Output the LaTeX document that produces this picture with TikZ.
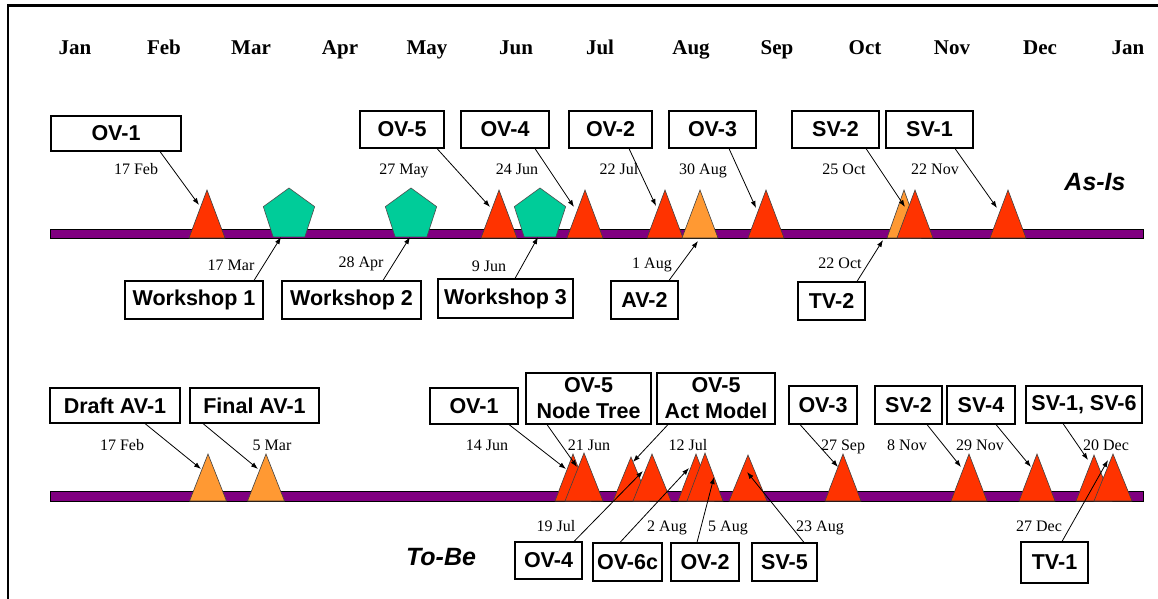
\documentclass[tikz,border=0pt]{standalone}
\usepackage{fontspec}
\setmainfont{Liberation Serif}
\setsansfont{Liberation Sans}
\usetikzlibrary{shapes.geometric,arrows.meta}
\definecolor{tred}{HTML}{FF3300}
\definecolor{torange}{HTML}{FF9933}
\definecolor{pgreen}{HTML}{00CC99}
\definecolor{barpurple}{HTML}{800080}
\newcommand\vbx[6]{\node[vbox, minimum width={#4-#2}, minimum height={#5-#3}] (#1) at ({(#2+#4)/2},{(#3+#5)/2}) {#6};}
\newcommand\trg[5]{\path[tri, fill=#1] ({#2-#4},#5) -- (#2,#3) -- ({#2+#4},#5) -- cycle;}
\newcommand\dlb[4]{\node[datelbl] (#1) at (#2,#3) {#4};}
\newcommand\mlb[3]{\node[monthlbl] (#1) at (#2,55) {#3};}
\begin{document}
\begin{tikzpicture}[x=1pt,y=-1pt,
 vbox/.style={draw=black, line width=1.1pt, fill=white, inner sep=0pt, align=center, font=\sffamily\bfseries\fontsize{21.5}{26}\selectfont},
 datelbl/.style={font=\rmfamily\fontsize{16}{18}\selectfont, anchor=base, inner sep=0pt},
 monthlbl/.style={font=\rmfamily\bfseries\fontsize{21}{24}\selectfont, anchor=base, inner sep=0pt},
 phase/.style={font=\sffamily\bfseries\itshape\fontsize{25}{28}\selectfont, inner sep=0pt},
 arr/.style={draw=black, line width=0.8pt, -{Latex[length=7pt,width=5pt]}},
 tl/.style={fill=barpurple, draw=black, line width=0.6pt},
 pent/.style={regular polygon, regular polygon sides=5, minimum size=54pt, inner sep=0pt, fill=pgreen, draw=black!70, line width=0.6pt},
 tri/.style={draw=black!75, line width=0.6pt}
]
\useasboundingbox (0,0) rectangle (1158,599);
\draw[line width=2.5pt] (8,599) -- (8,5.5) -- (1158,5.5);

% months
\mlb{m1}{75}{Jan}\mlb{m2}{164}{Feb}\mlb{m3}{251}{Mar}\mlb{m4}{340}{Apr}
\mlb{m5}{427}{May}\mlb{m6}{516}{Jun}\mlb{m7}{600}{Jul}\mlb{m8}{691}{Aug}
\mlb{m9}{777}{Sep}\mlb{m10}{865}{Oct}\mlb{m11}{952}{Nov}\mlb{m12}{1040}{Dec}
\mlb{m13}{1128}{Jan}

% ---------------- As-Is ----------------
\path[tl] (50,229) rectangle (1143,238);
\trg{tred}{207}{190}{18}{238}
\node[pent] (p1) at (289,215) {};
\node[pent] (p2) at (411,215) {};
\trg{tred}{499}{190}{18}{238}
\node[pent] (p3) at (540,215) {};
\trg{tred}{585}{190}{18}{238}
\trg{tred}{665}{190}{18}{238}
\trg{torange}{700}{190}{18}{238}
\trg{tred}{766}{190}{18}{238}
\trg{torange}{904}{190}{17}{238}
\trg{tred}{915}{190}{18}{238}
\trg{tred}{1008}{190}{18}{238}

\vbx{aov1}{51}{116}{181}{151}{OV-1}
\vbx{aov5}{360}{111}{444}{148}{OV-5}
\vbx{aov4}{461}{111}{549}{148}{OV-4}
\vbx{aov2}{569}{111}{652}{148}{OV-2}
\vbx{aov3}{669}{111}{756}{148}{OV-3}
\vbx{asv2}{792}{111}{879}{148}{SV-2}
\vbx{asv1}{886}{111}{973}{148}{SV-1}
\vbx{aw1}{125}{281}{263}{319}{Workshop 1}
\vbx{aw2}{282}{281}{421}{319}{Workshop 2}
\vbx{aw3}{438}{279}{573}{318}{Workshop 3}
\vbx{aav2}{611}{281}{678}{319}{AV-2}
\vbx{atv2}{798}{282}{865}{320}{TV-2}

\dlb{a1}{136}{174}{17 Feb}\dlb{a2}{404}{174}{27 May}\dlb{a3}{517}{174}{24 Jun}
\dlb{a4}{619}{174}{22 Jul}\dlb{a5}{703}{174}{30 Aug}\dlb{a6}{844}{174}{25 Oct}
\dlb{a7}{935}{174}{22 Nov}
\dlb{a8}{231}{270}{17 Mar}\dlb{a9}{361}{267}{28 Apr}\dlb{a10}{489}{271}{9 Jun}
\dlb{a11}{652}{268}{1 Aug}\dlb{a12}{840}{268}{22 Oct}

\node[phase] (asis) at (1095,182) {As-Is};

\coordinate (ta1) at (199,205);
\coordinate (ta4) at (490,207);
\coordinate (ta6) at (574,207);
\coordinate (ta7) at (656,206);
\coordinate (ta8) at (698,241);
\coordinate (ta9) at (756,208);
\coordinate (ta10) at (883,240);
\coordinate (ta11) at (905,207);
\coordinate (ta12) at (997,208);
\draw[arr] (aov1.south -| 160,0) -- (ta1);
\draw[arr] (aw1.north -| 254,0) -- (p1.south -| 281,0);
\draw[arr] (aw2.north -| 383,0) -- (p2.south -| 410,0);
\draw[arr] (aov5.south -| 437,0) -- (ta4);
\draw[arr] (aw3.north -| 515,0) -- (p3.south -| 538,0);
\draw[arr] (aov4.south -| 535,0) -- (ta6);
\draw[arr] (aov2.south -| 629,0) -- (ta7);
\draw[arr] (aav2.north -| 669,0) -- (ta8);
\draw[arr] (aov3.south -| 729,0) -- (ta9);
\draw[arr] (atv2.north -| 857,0) -- (ta10);
\draw[arr] (asv2.south -| 866,0) -- (ta11);
\draw[arr] (asv1.south -| 955,0) -- (ta12);

% ---------------- To-Be ----------------
\path[tl] (50,491) rectangle (1143,501);
\trg{torange}{208}{454}{18.5}{501}
\trg{torange}{266}{454}{18.5}{501}
\trg{tred}{573}{454}{18}{501}
\trg{tred}{584}{453}{19}{501}
\trg{tred}{631}{457}{18}{501}
\trg{tred}{652}{454}{19}{501}
\trg{tred}{696}{454}{18}{501}
\trg{tred}{705}{453}{18}{501}
\trg{tred}{748}{455}{19}{501}
\trg{tred}{843}{454}{18}{501}
\trg{tred}{969}{454}{18}{501}
\trg{tred}{1037}{454}{18}{501}
\trg{tred}{1094}{455}{18}{501}
\trg{tred}{1113}{454}{19}{501}

\vbx{bdraft}{50}{388}{180}{423}{Draft AV-1}
\vbx{bfinal}{190}{388}{319}{423}{Final AV-1}
\vbx{bov1}{430}{388}{518}{424}{OV-1}
\vbx{bov5n}{526}{373}{651}{424}{OV-5\\Node Tree}
\vbx{bov5a}{657}{373}{775}{424}{OV-5\\Act Model}
\vbx{bov3}{789}{386}{857}{424}{OV-3}
\vbx{bsv2}{875}{386}{942}{424}{SV-2}
\vbx{bsv4}{947}{386}{1015}{424}{SV-4}
\vbx{bsv16}{1026}{386}{1142}{423}{SV-1, SV-6}
\vbx{bov4}{515}{542}{582}{579}{OV-4}
\vbx{bov6c}{593}{543}{662}{581}{OV-6c}
\vbx{bov2}{671}{543}{739}{581}{OV-2}
\vbx{bsv5}{752}{543}{817}{581}{SV-5}
\vbx{btv1}{1021}{542}{1088}{583}{TV-1}

\dlb{b1}{122}{450.5}{17 Feb}\dlb{b2}{272}{450.5}{5 Mar}\dlb{b3}{487}{450.5}{14 Jun}
\dlb{b4}{589}{450.5}{21 Jun}\dlb{b5}{688}{450.5}{12 Jul}\dlb{b6}{843}{450.5}{27 Sep}
\dlb{b7}{907}{450.5}{8 Nov}\dlb{b8}{980}{450.5}{29 Nov}\dlb{b9}{1106}{450.5}{20 Dec}
\dlb{b10}{556}{531.5}{19 Jul}\dlb{b11}{667}{531.5}{2 Aug}\dlb{b12}{728}{531.5}{5 Aug}
\dlb{b13}{820}{531.5}{23 Aug}\dlb{b14}{1039}{531.5}{27 Dec}

\node[phase] (tobe) at (441,557) {To-Be};

\coordinate (tb1) at (201,469);
\coordinate (tb2) at (258,469);
\coordinate (tb3) at (566,469);
\coordinate (tb4) at (577,467);
\coordinate (tb5) at (633,462);
\coordinate (tb6) at (643,471);
\coordinate (tb7) at (689,468);
\coordinate (tb8) at (714,477);
\coordinate (tb9) at (747,472);
\coordinate (tb10) at (838,467);
\coordinate (tb11) at (961,467);
\coordinate (tb12) at (1031,467);
\coordinate (tb13) at (1088,460);
\coordinate (tb14) at (1108,460);
\draw[arr] (bdraft.south -| 145,0) -- (tb1);
\draw[arr] (bfinal.south -| 203,0) -- (tb2);
\draw[arr] (bov1.south -| 509,0) -- (tb3);
\draw[arr] (bov5n.south -| 547,0) -- (tb4);
\draw[arr] (bov5a.south -| 668,0) -- (tb5);
\draw[arr] (bov4.north -| 574,0) -- (tb6);
\draw[arr] (bov6c.north -| 620,0) -- (tb7);
\draw[arr] (bov2.north -| 697,0) -- (tb8);
\draw[arr] (bsv5.north -| 804,0) -- (tb9);
\draw[arr] (bov3.south -| 800,0) -- (tb10);
\draw[arr] (bsv2.south -| 927,0) -- (tb11);
\draw[arr] (bsv4.south -| 996,0) -- (tb12);
\draw[arr] (bsv16.south -| 1063,0) -- (tb13);
\draw[arr] (btv1.north -| 1062,0) -- (tb14);
\end{tikzpicture}
\end{document}
